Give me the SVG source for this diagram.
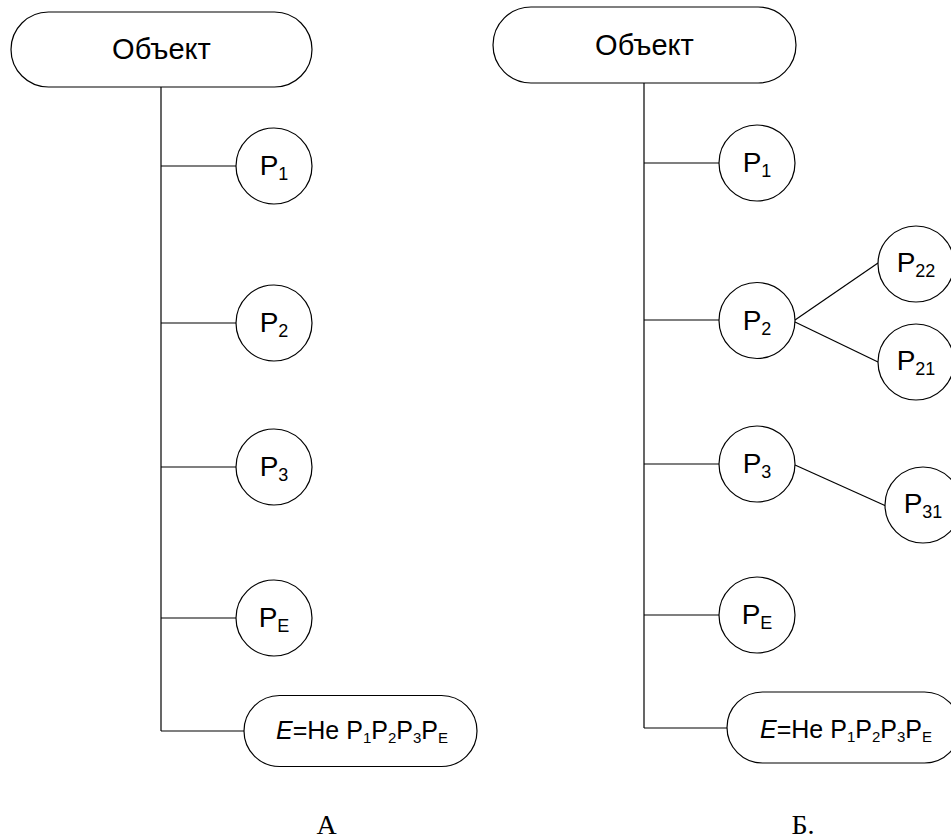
<svg xmlns="http://www.w3.org/2000/svg" width="951" height="839" viewBox="0 0 951 839">
<style>
.shape{fill:#fff;stroke:#000;stroke-width:1.2}
.conn{stroke:#000;stroke-width:1.2;fill:none}
text{font-family:"Liberation Sans",Arial,sans-serif;fill:#000}
.lbl{font-size:28px;text-anchor:middle}
.obj{font-size:29px;text-anchor:middle}
.box{font-size:25px;text-anchor:middle}
.cap{font-family:"Liberation Serif","Times New Roman",serif;font-size:28px;text-anchor:middle}
</style>
<rect width="951" height="839" fill="#fff"/>
<g id="connectors">
<line class="conn" x1="161" y1="87" x2="161" y2="731"/>
<line class="conn" x1="161" y1="166" x2="236" y2="166"/>
<line class="conn" x1="161" y1="323" x2="236" y2="323"/>
<line class="conn" x1="161" y1="467" x2="236" y2="467"/>
<line class="conn" x1="161" y1="618" x2="236" y2="618"/>
<line class="conn" x1="161" y1="731" x2="244" y2="731"/>
<line class="conn" x1="644" y1="83" x2="644" y2="728"/>
<line class="conn" x1="644" y1="163" x2="719" y2="163"/>
<line class="conn" x1="644" y1="320" x2="719" y2="320"/>
<line class="conn" x1="644" y1="464" x2="719" y2="464"/>
<line class="conn" x1="644" y1="615" x2="719" y2="615"/>
<line class="conn" x1="644" y1="728" x2="727" y2="728"/>
<line class="conn" x1="795" y1="320" x2="878" y2="263"/>
<line class="conn" x1="795" y1="322" x2="878" y2="362"/>
<line class="conn" x1="795" y1="465" x2="886" y2="506"/>
</g>
<g id="A-object"><rect class="shape" x="11" y="12" width="301" height="75" rx="37.5"/><text class="obj" x="161.5" y="59">Объект</text></g>
<g id="A-P1"><circle class="shape" cx="274" cy="166" r="38"/><text class="lbl" x="274" y="175">P<tspan font-size="18" dy="5">1</tspan></text></g>
<g id="A-P2"><circle class="shape" cx="274" cy="323" r="38"/><text class="lbl" x="274" y="332">P<tspan font-size="18" dy="5">2</tspan></text></g>
<g id="A-P3"><circle class="shape" cx="274" cy="467" r="38"/><text class="lbl" x="274" y="476">P<tspan font-size="18" dy="5">3</tspan></text></g>
<g id="A-PE"><circle class="shape" cx="274" cy="618" r="38"/><text class="lbl" x="274" y="627">P<tspan font-size="18" dy="5">E</tspan></text></g>
<g id="A-E"><rect class="shape" x="244" y="695.5" width="233" height="71" rx="35.5"/><text class="box" x="362" y="739"><tspan font-style="italic">E</tspan>=Не P<tspan font-size="15" dy="4">1</tspan><tspan dy="-4">P</tspan><tspan font-size="15" dy="4">2</tspan><tspan dy="-4">P</tspan><tspan font-size="15" dy="4">3</tspan><tspan dy="-4">P</tspan><tspan font-size="15" dy="4">E</tspan></text></g>
<g id="B-object"><rect class="shape" x="493" y="7" width="303" height="76" rx="38"/><text class="obj" x="644.5" y="55">Объект</text></g>
<g id="B-P1"><circle class="shape" cx="757" cy="163" r="38"/><text class="lbl" x="757" y="172">P<tspan font-size="18" dy="5">1</tspan></text></g>
<g id="B-P2"><circle class="shape" cx="757" cy="320.5" r="38"/><text class="lbl" x="757" y="329.5">P<tspan font-size="18" dy="5">2</tspan></text></g>
<g id="B-P22"><circle class="shape" cx="916" cy="264" r="38"/><text class="lbl" x="916" y="272">P<tspan font-size="18" dy="5">22</tspan></text></g>
<g id="B-P21"><circle class="shape" cx="916" cy="362" r="38"/><text class="lbl" x="916" y="370">P<tspan font-size="18" dy="5">21</tspan></text></g>
<g id="B-P3"><circle class="shape" cx="757" cy="464" r="38"/><text class="lbl" x="757" y="473">P<tspan font-size="18" dy="5">3</tspan></text></g>
<g id="B-P31"><circle class="shape" cx="923" cy="505" r="38"/><text class="lbl" x="923" y="513">P<tspan font-size="18" dy="5">31</tspan></text></g>
<g id="B-PE"><circle class="shape" cx="757" cy="615" r="38"/><text class="lbl" x="757" y="624">P<tspan font-size="18" dy="5">E</tspan></text></g>
<g id="B-E"><rect class="shape" x="727" y="692" width="233" height="71" rx="35.5"/><text class="box" x="846" y="738"><tspan font-style="italic">E</tspan>=Не P<tspan font-size="15" dy="4">1</tspan><tspan dy="-4">P</tspan><tspan font-size="15" dy="4">2</tspan><tspan dy="-4">P</tspan><tspan font-size="15" dy="4">3</tspan><tspan dy="-4">P</tspan><tspan font-size="15" dy="4">E</tspan></text></g>
<g id="captions"><text class="cap" x="326.5" y="834">А</text><text class="cap" x="803" y="834">Б.</text></g>
</svg>
